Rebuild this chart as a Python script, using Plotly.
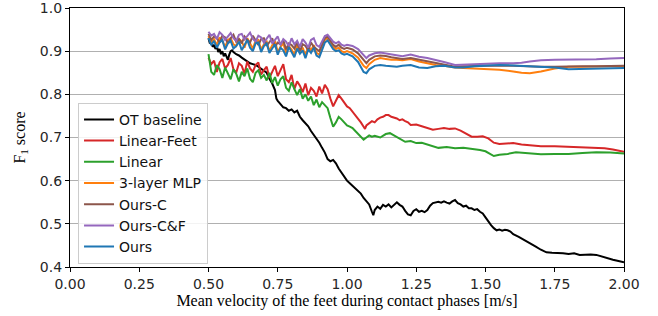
import plotly.graph_objects as go

# ---------------- data ----------------
ot_x = [0.500,0.505,0.510,0.515,0.520,0.525,0.530,0.535,0.540,0.545,0.550,0.555,0.560,0.565,0.570,0.575,0.580,0.585,0.590,
        0.600,0.610,0.620,0.630,0.640,0.650,0.660,0.670,0.680,0.690,0.700,0.710,0.720,0.730,0.740,0.745,0.750,0.760,0.770,
        0.780,0.790,0.800,0.810,0.820,0.830,0.840,0.850,0.860,0.870,0.880,0.890,0.900,0.910,0.920,0.930,0.940,0.950,0.960,
        0.970,0.980,0.990,1.000,1.010,1.020,1.030,1.040,1.050,1.060,1.070,1.080,1.090,1.095,1.100,1.110,1.120,1.130,1.140,
        1.150,1.160,1.170,1.180,1.190,1.200,1.210,1.220,1.230,1.240,1.250,1.260,1.270,1.280,1.290,1.300,1.310,1.320,1.330,
        1.340,1.350,1.360,1.370,1.380,1.390,1.400,1.410,1.420,1.430,1.440,1.450,1.460,1.470,1.480,1.490,1.500,1.510,1.520,
        1.530,1.540,1.550,1.560,1.570,1.580,1.590,1.600,1.620,1.640,1.660,1.680,1.700,1.720,1.740,1.760,1.780,1.800,1.820,
        1.840,1.860,1.880,1.900,1.920,1.940,1.960,1.980,2.000]
ot_y = [0.930,0.918,0.922,0.910,0.915,0.905,0.912,0.898,0.905,0.893,0.900,0.888,0.895,0.885,0.880,0.892,0.900,0.902,0.898,
        0.893,0.890,0.885,0.880,0.876,0.872,0.870,0.868,0.864,0.860,0.855,0.850,0.836,0.825,0.810,0.790,0.785,0.776,0.770,
        0.768,0.762,0.765,0.758,0.762,0.748,0.740,0.733,0.726,0.715,0.706,0.698,0.688,0.676,0.665,0.650,0.645,0.648,0.640,
        0.628,0.618,0.610,0.600,0.594,0.588,0.582,0.575,0.570,0.560,0.552,0.545,0.528,0.520,0.532,0.540,0.535,0.544,0.540,
        0.545,0.538,0.543,0.550,0.544,0.540,0.530,0.522,0.520,0.530,0.534,0.528,0.530,0.527,0.532,0.542,0.548,0.550,0.551,
        0.549,0.552,0.549,0.547,0.552,0.555,0.548,0.545,0.540,0.542,0.536,0.536,0.532,0.534,0.528,0.524,0.515,0.505,0.497,
        0.490,0.485,0.487,0.484,0.486,0.485,0.482,0.476,0.470,0.462,0.456,0.448,0.440,0.434,0.433,0.433,0.432,0.430,0.432,
        0.428,0.429,0.429,0.428,0.424,0.420,0.417,0.414,0.411]

lf_x = [0.50,0.51,0.52,0.53,0.54,0.55,0.56,0.57,0.58,0.59,0.60,0.61,0.62,0.63,0.64,0.65,0.66,0.67,0.68,0.69,0.70,0.71,
        0.72,0.73,0.74,0.75,0.76,0.77,0.78,0.79,0.80,0.81,0.82,0.83,0.84,0.85,0.86,0.87,0.88,0.89,0.90,0.91,0.92,0.93,
        0.94,0.95,0.96,0.97,0.98,0.99,1.00,1.01,1.02,1.03,1.04,1.05,1.06,1.065,1.07,1.08,1.09,1.10,1.11,1.12,1.13,1.14,
        1.15,1.16,1.17,1.18,1.19,1.20,1.21,1.22,1.23,1.25,1.27,1.29,1.31,1.33,1.35,1.37,1.39,1.41,1.43,1.45,1.47,1.49,
        1.51,1.53,1.55,1.57,1.60,1.63,1.66,1.70,1.75,1.80,1.85,1.90,1.93,1.96,2.00]
lf_y = [0.885,0.870,0.878,0.852,0.874,0.882,0.860,0.868,0.884,0.858,0.850,0.872,0.866,0.848,0.876,0.860,0.852,0.868,
        0.874,0.846,0.856,0.864,0.838,0.852,0.866,0.842,0.858,0.870,0.835,0.828,0.845,0.812,0.830,0.820,0.805,0.825,
        0.798,0.815,0.808,0.795,0.818,0.802,0.822,0.812,0.790,0.772,0.785,0.798,0.790,0.780,0.772,0.768,0.760,0.752,
        0.745,0.735,0.725,0.720,0.728,0.732,0.738,0.735,0.742,0.746,0.748,0.752,0.752,0.748,0.746,0.744,0.740,0.742,
        0.738,0.735,0.729,0.730,0.726,0.722,0.718,0.720,0.722,0.720,0.721,0.716,0.708,0.702,0.702,0.703,0.698,0.688,
        0.685,0.686,0.687,0.684,0.682,0.680,0.680,0.679,0.678,0.677,0.675,0.672,0.667]

li_x = [0.50,0.505,0.51,0.52,0.53,0.54,0.55,0.56,0.57,0.58,0.59,0.60,0.61,0.62,0.63,0.64,0.65,0.66,0.67,0.68,0.69,0.70,
        0.71,0.72,0.73,0.74,0.75,0.76,0.77,0.78,0.79,0.80,0.81,0.82,0.83,0.84,0.85,0.86,0.87,0.88,0.89,0.90,0.91,0.92,
        0.93,0.94,0.95,0.96,0.97,0.98,0.99,1.00,1.01,1.02,1.03,1.04,1.05,1.06,1.07,1.08,1.09,1.10,1.12,1.14,1.155,1.17,
        1.19,1.21,1.23,1.25,1.27,1.29,1.31,1.33,1.36,1.39,1.42,1.45,1.48,1.50,1.53,1.55,1.58,1.61,1.65,1.70,1.75,1.80,
        1.85,1.90,1.95,2.00]
li_y = [0.893,0.870,0.852,0.845,0.868,0.858,0.838,0.862,0.850,0.835,0.858,0.848,0.830,0.852,0.842,0.860,0.836,0.828,
        0.850,0.856,0.838,0.845,0.832,0.850,0.826,0.840,0.820,0.835,0.842,0.815,0.808,0.828,0.812,0.798,0.812,0.790,
        0.800,0.785,0.795,0.775,0.788,0.770,0.782,0.776,0.768,0.745,0.725,0.735,0.748,0.742,0.735,0.728,0.725,0.722,
        0.715,0.708,0.700,0.695,0.700,0.705,0.702,0.704,0.700,0.708,0.710,0.704,0.698,0.690,0.692,0.687,0.688,0.684,
        0.680,0.676,0.678,0.675,0.676,0.674,0.671,0.668,0.657,0.660,0.662,0.666,0.663,0.661,0.662,0.662,0.664,0.666,
        0.665,0.663]

top_x = [0.50,0.51,0.52,0.53,0.54,0.55,0.56,0.57,0.58,0.59,0.60,0.61,0.62,0.63,0.64,0.65,0.66,0.67,0.68,0.69,0.70,
         0.71,0.72,0.73,0.74,0.75,0.76,0.77,0.78,0.79,0.80,0.81,0.82,0.83,0.84,0.85,0.86,0.87,0.88,0.89,0.90,0.91,0.92,
         0.93,0.94,0.95,0.96,0.97,0.98,0.99,1.00,1.02,1.04,1.06,1.07,1.08,1.10,1.12,1.14,1.16,1.18,1.20,1.23,1.26,1.29,
         1.32,1.35,1.39,1.42,1.46,1.50,1.55,1.60,1.63,1.66,1.70,1.75,1.80,1.85,1.90,1.95,2.00]
mlp_y = [0.935,0.920,0.928,0.914,0.932,0.924,0.910,0.926,0.930,0.916,0.912,0.928,0.922,0.908,0.930,0.918,0.906,0.924,
         0.926,0.904,0.916,0.922,0.900,0.914,0.924,0.898,0.910,0.918,0.896,0.912,0.904,0.892,0.914,0.900,0.908,0.890,
         0.912,0.902,0.914,0.896,0.892,0.908,0.926,0.930,0.920,0.910,0.905,0.908,0.900,0.897,0.900,0.895,0.885,0.866,
         0.861,0.870,0.880,0.884,0.882,0.880,0.880,0.879,0.882,0.876,0.872,0.868,0.866,0.862,0.861,0.860,0.858,0.857,
         0.853,0.850,0.849,0.853,0.860,0.864,0.864,0.865,0.865,0.865]
oursc_y = [0.940,0.926,0.934,0.930,0.920,0.936,0.932,0.918,0.930,0.938,0.922,0.928,0.918,0.934,0.926,0.920,0.936,0.924,
           0.914,0.928,0.930,0.912,0.922,0.930,0.910,0.920,0.916,0.926,0.904,0.918,0.914,0.906,0.922,0.900,0.916,0.912,
           0.902,0.920,0.910,0.904,0.900,0.915,0.930,0.934,0.925,0.915,0.910,0.915,0.908,0.905,0.908,0.904,0.895,0.878,
           0.872,0.880,0.888,0.890,0.889,0.886,0.884,0.882,0.884,0.880,0.876,0.872,0.868,0.864,0.865,0.866,0.867,0.867,
           0.866,0.865,0.865,0.864,0.864,0.865,0.865,0.865,0.866,0.866]
ourscf_y = [0.945,0.936,0.940,0.928,0.944,0.938,0.926,0.934,0.942,0.930,0.924,0.938,0.940,0.927,0.935,0.943,0.929,0.922,
            0.936,0.932,0.920,0.930,0.938,0.918,0.926,0.934,0.914,0.928,0.922,0.912,0.930,0.916,0.924,0.910,0.928,0.920,
            0.908,0.926,0.930,0.914,0.910,0.922,0.935,0.938,0.930,0.922,0.918,0.922,0.915,0.912,0.915,0.912,0.905,0.890,
            0.884,0.890,0.895,0.897,0.895,0.893,0.890,0.888,0.892,0.887,0.884,0.880,0.875,0.868,0.869,0.870,0.872,0.872,
            0.872,0.873,0.876,0.879,0.880,0.880,0.880,0.881,0.883,0.884]
ours_y = [0.930,0.914,0.924,0.908,0.920,0.926,0.904,0.918,0.924,0.906,0.912,0.922,0.902,0.916,0.926,0.908,0.900,0.918,
          0.920,0.898,0.912,0.918,0.896,0.906,0.916,0.892,0.908,0.902,0.888,0.910,0.898,0.886,0.906,0.894,0.902,0.884,
          0.904,0.896,0.908,0.890,0.886,0.902,0.920,0.925,0.915,0.905,0.900,0.902,0.895,0.892,0.894,0.888,0.875,0.852,
          0.849,0.858,0.866,0.868,0.866,0.865,0.864,0.866,0.868,0.862,0.861,0.865,0.866,0.862,0.862,0.865,0.867,0.868,
          0.867,0.866,0.866,0.865,0.862,0.858,0.859,0.860,0.861,0.861]

x_ticks = [0.0, 0.25, 0.5, 0.75, 1.0, 1.25, 1.5, 1.75, 2.0]
y_ticks = [0.4, 0.5, 0.6, 0.7, 0.8, 0.9, 1.0]

series = [
    ("OT baseline", ot_x, ot_y, "#000000"),
    ("Linear-Feet", lf_x, lf_y, "#d62728"),
    ("Linear", li_x, li_y, "#2ca02c"),
    ("3-layer MLP", top_x, mlp_y, "#ff7f0e"),
    ("Ours-C", top_x, oursc_y, "#8c564b"),
    ("Ours-C&F", top_x, ourscf_y, "#9467bd"),
    ("Ours", top_x, ours_y, "#1f77b4"),
]

fig = go.Figure()
for name, xs, ys, col in series:
    fig.add_trace(go.Scatter(x=xs, y=ys, mode="lines", name=name,
                             line=dict(color=col, width=2)))

tickfont = dict(family="DejaVu Sans", size=14, color="#262626")
serif = dict(family="Liberation Serif", size=16, color="#000000")

fig.update_layout(
    width=658, height=316,
    margin=dict(l=70, r=34, t=8, b=49),
    paper_bgcolor="white", plot_bgcolor="white",
    showlegend=True,
    legend=dict(x=0.0145, y=0.634, xanchor="left", yanchor="top",
                bgcolor="rgba(255,255,255,0.85)", bordercolor="#cccccc", borderwidth=1,
                font=dict(family="DejaVu Sans", size=14, color="#111111"),
                tracegroupgap=0),
)
fig.update_xaxes(range=[0, 2], tickvals=x_ticks, ticktext=[f"{v:.2f}" for v in x_ticks],
                 showgrid=False, zeroline=False, showline=True, linecolor="black", linewidth=1.2,
                 mirror=True, ticks="outside", ticklen=4, tickcolor="black", tickfont=tickfont,
                 automargin=False, ticklabeloverflow="allow",
                 title=dict(text="Mean velocity of the feet during contact phases [m/s]", font=serif, standoff=3))
fig.update_yaxes(range=[0.4, 1.0], tickvals=y_ticks, ticktext=[f"{v:.1f}" for v in y_ticks],
                 showgrid=True, gridcolor="#b0b0b0", gridwidth=1, zeroline=False,
                 showline=True, linecolor="black", linewidth=1.2, mirror=True,
                 ticks="outside", ticklen=4, tickcolor="black", tickfont=tickfont,
                 automargin=False, ticklabeloverflow="allow",
                 title=dict(text="F<sub>1</sub> score", font=serif, standoff=10))

fig.write_html("out.html", config={"displayModeBar": False},
               post_script="document.body.style.margin='0px';document.body.style.overflow='hidden';")
